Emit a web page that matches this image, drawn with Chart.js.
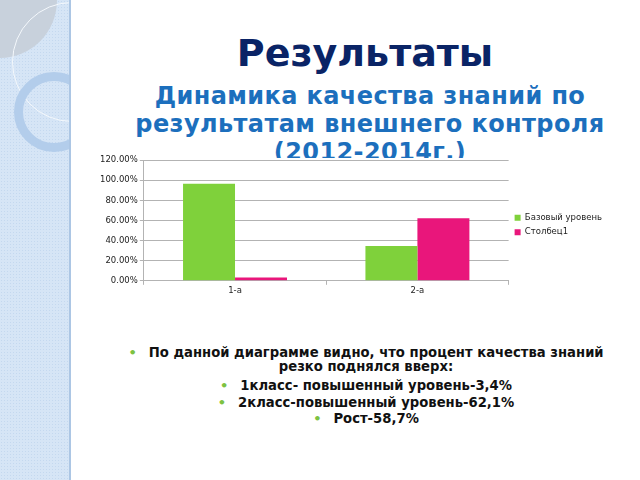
<!DOCTYPE html>
<html>
<head>
<meta charset="utf-8">
<script src="https://cdn.jsdelivr.net/npm/chart.js@4"></script>
<style>
  html, body { margin: 0; padding: 0; }
  body { width: 640px; height: 480px; position: relative; overflow: hidden; background: #fff; font-family: "DejaVu Sans", sans-serif; }
  #strip { position: absolute; left: 0; top: 0; width: 69px; height: 480px; background-color: #d6e5f6;
    background-image: radial-gradient(#c4d8ef 0.8px, transparent 0.9px); background-size: 3px 3px;
    border-right: 2px solid #acc6e4; overflow: hidden; }
  #grayBox { position: absolute; left: 0; top: 0; width: 57px; height: 58px; background: #c8d1dc; border-bottom-right-radius: 57px 58px; }
  #ring1 { position: absolute; left: 12px; top: 2px; width: 120px; height: 120px; box-sizing: border-box; border-radius: 50%; border: 1.5px solid #f4f8fc; }
  #ring2 { position: absolute; left: 14px; top: 72px; width: 80px; height: 80px; box-sizing: border-box; border-radius: 50%; border: 9px solid #b3cdeb; }
  .title { position: absolute; text-align: center; font-weight: bold; }
  #t1 { top: 31px; left: 80px; width: 570px; font-size: 38px; color: #0a2466; }
  #t2 { top: 82px; left: 80px; width: 580px; font-size: 24px; line-height: 28px; letter-spacing: 0.4px; color: #1c6fbd; }
  #chartBox { position: absolute; left: 80px; top: 153px; width: 540px; height: 144px;
    background: linear-gradient(to bottom, transparent 0, transparent 5px, #fff 5px); }
  #notes { position: absolute; left: 103px; top: 346px; width: 526px; text-align: center; font-size: 13.2px; font-weight: bold; color: #111; }
  #notes .p1 { line-height: 14px; margin-bottom: 4px; }
  #notes .p { line-height: 16.5px; }
  #notes .b { color: #7dc242; margin-right: 12px; font-size: 13px; }
</style>
</head>
<body>
<div id="strip"><div id="grayBox"></div><div id="ring1"></div><div id="ring2"></div></div>
<div class="title" id="t1">Результаты</div>
<div class="title" id="t2">Динамика качества знаний по<br>результатам внешнего контроля<br>(2012-2014г.)</div>
<div id="chartBox"><canvas id="main-chart"></canvas></div>
<div id="notes">
  <div class="p1"><span class="b">•</span>По данной диаграмме видно, что процент качества знаний<br>резко поднялся вверх:</div>
  <div class="p"><span class="b">•</span>1класс- повышенный уровень-3,4%</div>
  <div class="p"><span class="b">•</span>2класс-повышенный уровень-62,1%</div>
  <div class="p"><span class="b">•</span>Рост-58,7%</div>
</div>
<script>
// Categories and series
const classes = ["1-а", "2-а"];
const baseLevel = [0.966, 0.345];
const column1 = [0.034, 0.621];
const yTicks = [0, 0.2, 0.4, 0.6, 0.8, 1.0, 1.2];

const ctx = document.getElementById("main-chart").getContext("2d");

const resultsChart = new Chart(ctx, {
  type: "bar",
  data: {
    labels: classes,
    datasets: [
      {
        label: "Базовый уровень",
        backgroundColor: "#7fd13b",
        data: baseLevel,
      },
      {
        label: "Столбец1",
        backgroundColor: "#e9167b",
        data: column1,
      },
    ],
  },
  options: {
    responsive: true,
    maintainAspectRatio: false,
    animation: false,
    datasets: {
      bar: { categoryPercentage: 0.57, barPercentage: 1.0 },
    },
    layout: { padding: { top: 0, right: 8, bottom: 0, left: 18 } },
    scales: {
      x: {
        grid: { drawOnChartArea: false, color: "#b3b3b3", tickLength: 4 },
        border: { color: "#b3b3b3" },
        ticks: { color: "#222", font: { family: "DejaVu Sans", size: 8.5 }, padding: 1 },
      },
      y: {
        min: 0,
        max: 1.2,
        afterBuildTicks: (axis) => {
          axis.ticks = yTicks.map((v) => ({ value: v }));
        },
        grid: { color: "#b3b3b3", tickLength: 4 },
        border: { color: "#b3b3b3" },
        ticks: {
          color: "#222",
          font: { family: "DejaVu Sans", size: 8.5 },
          padding: 2,
          callback: (v) => (v * 100).toFixed(2) + "%",
        },
      },
    },
    plugins: {
      legend: {
        position: "right",
        labels: {
          boxWidth: 6,
          boxHeight: 6,
          padding: 6,
          color: "#222",
          font: { family: "DejaVu Sans", size: 8.5 },
        },
      },
      tooltip: { enabled: false },
    },
  },
});
</script>
</body>
</html>
